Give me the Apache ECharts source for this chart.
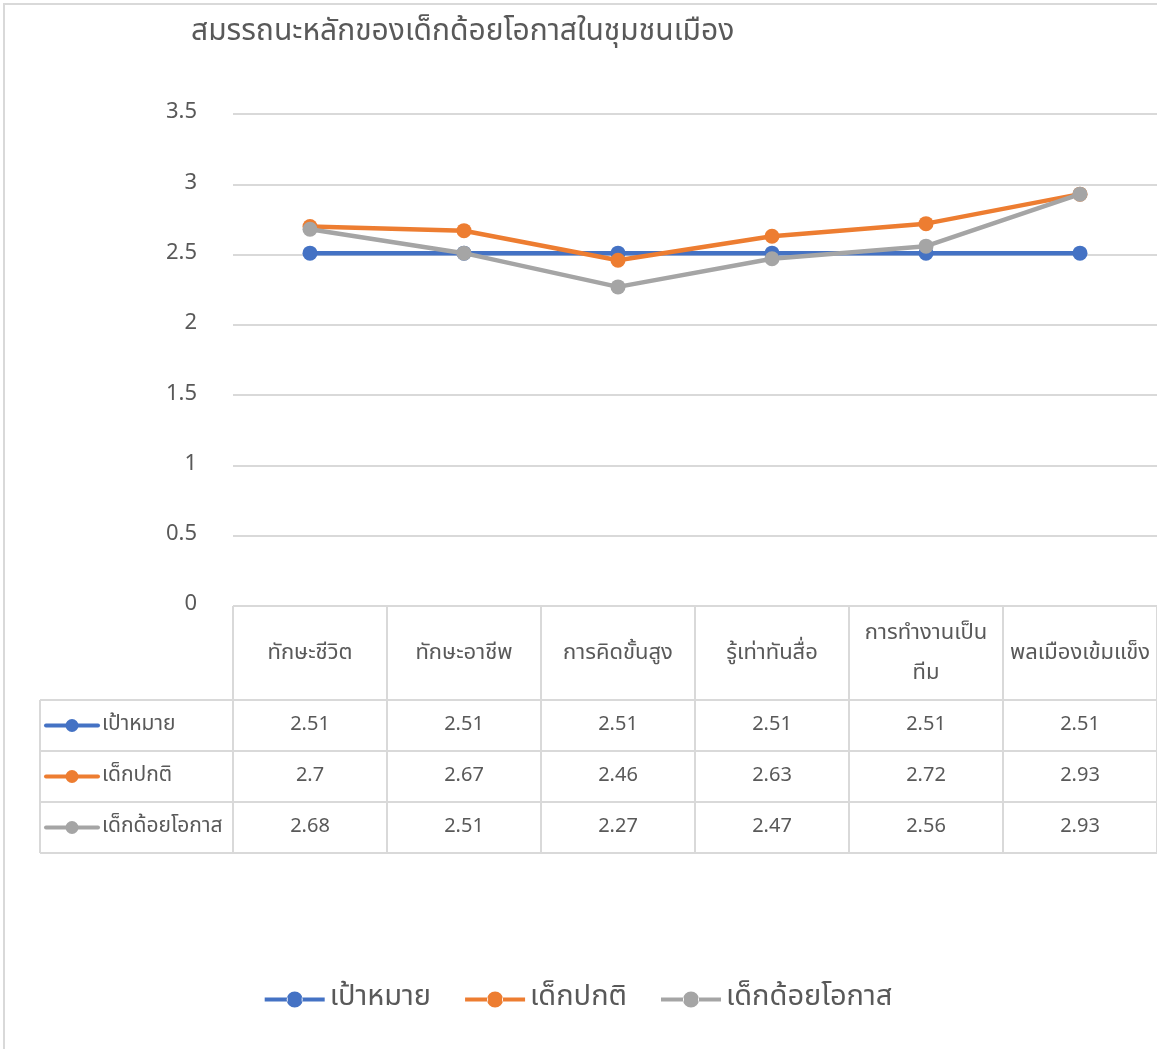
<!DOCTYPE html>
<html>
<head>
<meta charset="utf-8">
<script src="https://cdn.jsdelivr.net/npm/echarts@6/dist/echarts.min.js"></script>
<style>
  html, body { margin: 0; padding: 0; background: #fff; }
  #chart { width: 1157px; height: 1049px; }
</style>
</head>
<body>
<div id="chart"></div>
<script>
// data
const categories = ['ทักษะชีวิต', 'ทักษะอาชีพ', 'การคิดขั้นสูง', 'รู้เท่าทันสื่อ', 'การทำงานเป็น\nทีม', 'พลเมืองเข้มแข็ง'];
const target = [2.51, 2.51, 2.51, 2.51, 2.51, 2.51];
const normalKids = [2.7, 2.67, 2.46, 2.63, 2.72, 2.93];
const disadvantagedKids = [2.68, 2.51, 2.27, 2.47, 2.56, 2.93];
const seriesNames = ['เป้าหมาย', 'เด็กปกติ', 'เด็กด้อยโอกาส'];
const colors = ['#4472C4', '#ED7D31', '#A5A5A5'];

const FONT = '"Noto Sans Thai", "Noto Sans", sans-serif';
const TXT = '#595959';
const LINE = '#d9d9d9';

const chart = echarts.init(document.getElementById('chart'));

const allSeries = [target, normalKids, disadvantagedKids];

// line + dot legend icon, like excel (bar split so the dot stays solid)
const legendIcon = 'path://M0,6h23v4h-23z M37,6h23v4h-23z M22,8a8,8 0 1,0 16,0a8,8 0 1,0 -16,0z';

const option = {
  animation: false,
  textStyle: { fontFamily: FONT },
  title: {
    text: 'สมรรถนะหลักของเด็กด้อยโอกาสในชุมชนเมือง',
    left: 186, top: 14,
    textStyle: { fontSize: 30, fontWeight: 'normal', color: TXT, fontFamily: FONT }
  },
  legend: {
    bottom: 30, left: 'center',
    itemWidth: 60, itemHeight: 16, itemGap: 34,
    icon: legendIcon,
    textStyle: { fontSize: 29, color: TXT, fontFamily: FONT },
    data: seriesNames
  },
  grid: { left: 233, right: 0, top: 114, bottom: 443 },
  xAxis: {
    type: 'category',
    data: categories,
    axisLine: { show: false },
    axisTick: { show: false },
    axisLabel: { show: false }
  },
  yAxis: {
    type: 'value', min: 0, max: 3.5, interval: 0.5,
    axisLabel: { fontSize: 22, color: TXT, margin: 36, fontFamily: FONT },
    splitLine: { lineStyle: { color: LINE, width: 2 } }
  },
  series: allSeries.map((d, i) => ({
    name: seriesNames[i],
    type: 'line',
    data: d,
    symbol: 'circle',
    symbolSize: 15,
    color: colors[i],
    lineStyle: { width: 4.5 },
    z: 2 + i
  }))
};
chart.setOption(option);

// data table under the plot, positioned from the axis
function buildTable() {
  const g = [];
  const x0 = chart.convertToPixel({ xAxisIndex: 0 }, 0);
  const x1 = chart.convertToPixel({ xAxisIndex: 0 }, 1);
  const step = x1 - x0;
  const tableTop = chart.convertToPixel({ yAxisIndex: 0 }, 0);
  const headerH = 94;
  const rowH = 51;
  const leftX = 40;
  const colStart = x0 - step / 2;
  const colEnd = colStart + step * categories.length;
  const bottomY = tableTop + headerH + rowH * 3;
  const ls = { stroke: LINE, lineWidth: 2 };

  // horizontal lines
  g.push({ type: 'line', shape: { x1: colStart, y1: tableTop, x2: colEnd, y2: tableTop }, style: ls });
  for (let r = 0; r <= 3; r++) {
    const y = tableTop + headerH + rowH * r;
    g.push({ type: 'line', shape: { x1: leftX, y1: y, x2: colEnd, y2: y }, style: ls });
  }
  // vertical lines
  g.push({ type: 'line', shape: { x1: leftX, y1: tableTop + headerH, x2: leftX, y2: bottomY }, style: ls });
  for (let c = 0; c <= categories.length; c++) {
    const x = colStart + step * c;
    g.push({ type: 'line', shape: { x1: x, y1: tableTop, x2: x, y2: bottomY }, style: ls });
  }
  // header labels
  categories.forEach((name, c) => {
    g.push({
      type: 'text',
      style: {
        text: name, x: x0 + step * c, y: tableTop + headerH / 2 + 2,
        align: 'center', verticalAlign: 'middle',
        fill: TXT, font: '22px ' + FONT, lineHeight: 40
      }
    });
  });
  // rows
  allSeries.forEach((d, r) => {
    const yc = tableTop + headerH + rowH * r + rowH / 2;
    g.push({ type: 'line', shape: { x1: 46, y1: yc, x2: 98, y2: yc }, style: { stroke: colors[r], lineWidth: 4, lineCap: 'round' } });
    g.push({ type: 'circle', shape: { cx: 72, cy: yc, r: 6.5 }, style: { fill: colors[r] } });
    g.push({
      type: 'text',
      style: { text: seriesNames[r], x: 102, y: yc, align: 'left', verticalAlign: 'middle', fill: TXT, font: '21px ' + FONT }
    });
    d.forEach((v, c) => {
      g.push({
        type: 'text',
        style: { text: String(v), x: x0 + step * c, y: yc, align: 'center', verticalAlign: 'middle', fill: TXT, font: '20px ' + FONT }
      });
    });
  });
  // outer chart border
  g.push({ type: 'rect', shape: { x: 4, y: 4, width: 1200, height: 1100 }, style: { fill: 'none', stroke: LINE, lineWidth: 2 }, z: -1 });
  chart.setOption({ graphic: g });
}
buildTable();
</script>
</body>
</html>
